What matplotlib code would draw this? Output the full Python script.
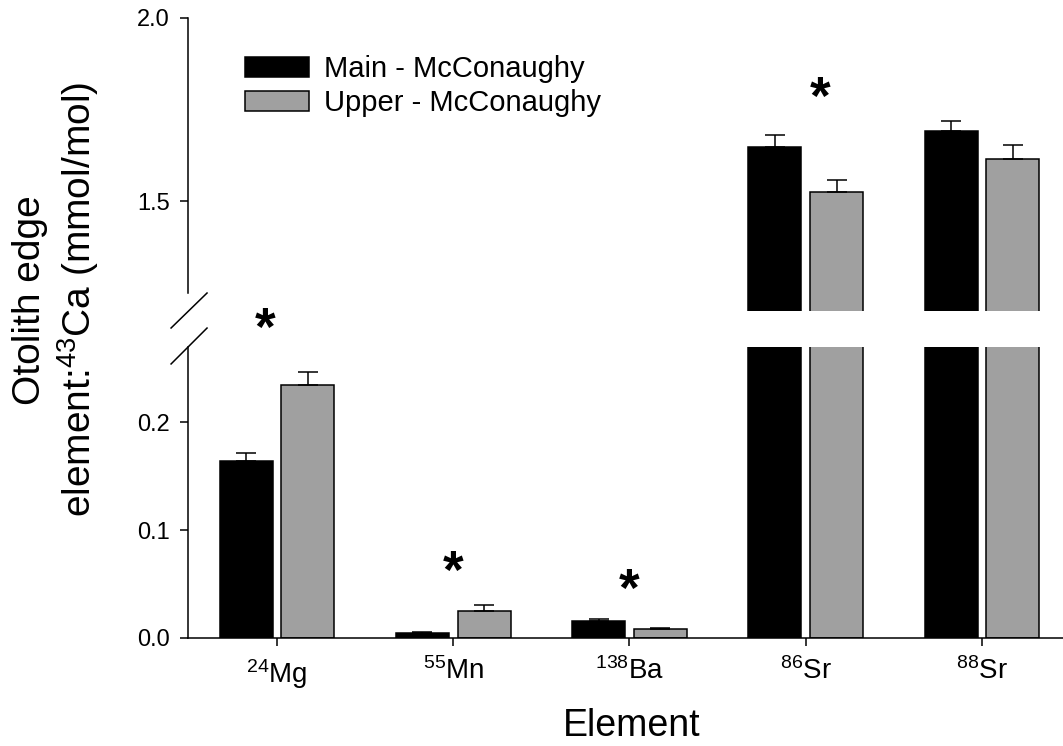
import numpy as np
import matplotlib
matplotlib.use('Agg')
import matplotlib.pyplot as plt
from matplotlib import transforms
from matplotlib.ticker import FormatStrFormatter

plt.rcParams['font.family'] = ['Liberation Sans', 'DejaVu Sans']
plt.rcParams['mathtext.fontset'] = 'custom'
plt.rcParams['mathtext.rm'] = 'Liberation Sans'
plt.rcParams['mathtext.it'] = 'Liberation Sans:italic'
plt.rcParams['mathtext.bf'] = 'Liberation Sans:bold'

# Data (mean and upper SE)
elements = [r'$^{24}$Mg', r'$^{55}$Mn', r'$^{138}$Ba', r'$^{86}$Sr', r'$^{88}$Sr']
main_mean = [0.164, 0.0046, 0.0157, 1.649, 1.692]
main_se = [0.008, 0.001, 0.0015, 0.032, 0.027]
upper_mean = [0.235, 0.025, 0.0083, 1.526, 1.616]
upper_se = [0.012, 0.006, 0.001, 0.033, 0.038]

# Significance stars (x in category units, y in data units, which panel)
star_x = [-0.07, 1.0, 2.0, 3.08]
star_y = [0.296, 0.070, 0.053, 1.809]
star_panel = ['low', 'low', 'low', 'high']

fig = plt.figure(figsize=(10.63, 7.46), dpi=100)
ax_hi = fig.add_axes([0.1769, 0.5831, 0.8231, 0.3928])
ax_lo = fig.add_axes([0.1769, 0.1448, 0.8231, 0.3901])

x = np.arange(len(elements))
w = 0.30
off = 0.175
zeros = np.zeros(len(elements))

for ax in (ax_hi, ax_lo):
    ax.bar(x - off, main_mean, w, color='black', edgecolor='black', linewidth=1.1,
           label='Main - McConaughy')
    ax.bar(x + off, upper_mean, w, color='#a0a0a0', edgecolor='black', linewidth=1.1,
           label='Upper - McConaughy')
    ax.errorbar(x - off, main_mean, yerr=[zeros, main_se], fmt='none', ecolor='black',
                elinewidth=1.1, capsize=7, capthick=1.1)
    ax.errorbar(x + off, upper_mean, yerr=[zeros, upper_se], fmt='none', ecolor='black',
                elinewidth=1.1, capsize=7, capthick=1.1)
    ax.set_xlim(-0.505, 4.46)
    ax.spines['top'].set_visible(False)
    ax.spines['right'].set_visible(False)
    ax.spines['left'].set_linewidth(1.1)
    ax.spines['bottom'].set_linewidth(1.1)
    ax.tick_params(axis='y', direction='out', length=6, width=1.1, labelsize=17, pad=7)

# upper panel
ax_hi.set_ylim(1.2, 2.0)
ax_hi.set_yticks([1.5, 2.0])
ax_hi.yaxis.set_major_formatter(FormatStrFormatter('%.1f'))
ax_hi.spines['bottom'].set_visible(False)
ax_hi.spines['left'].set_bounds(1.25, 2.0)
ax_hi.tick_params(axis='x', bottom=False, labelbottom=False)

# lower panel
ax_lo.set_ylim(0, 0.27)
ax_lo.set_yticks([0.0, 0.1, 0.2])
ax_lo.yaxis.set_major_formatter(FormatStrFormatter('%.1f'))
ax_lo.set_xticks(x)
ax_lo.set_xticklabels(elements)
ax_lo.tick_params(axis='x', direction='out', length=6, width=1.1, labelsize=20, pad=8)

# axis break marks
kw = dict(color='black', lw=1.1, clip_on=False)
ax_hi.plot([-0.0194, 0.0217], [-0.058, 0.0614], transform=ax_hi.transAxes, **kw)
ax_lo.plot([-0.0194, 0.0217], [0.9416, 1.065], transform=ax_lo.transAxes, **kw)

# stars
star_fs = 38
for sx, sy, p in zip(star_x, star_y, star_panel):
    ax = ax_hi if p == 'high' else ax_lo
    tr = transforms.offset_copy(ax.transData, fig=fig, y=-0.485 * star_fs, units='points')
    ax.text(sx, sy, '*', fontsize=star_fs, fontweight='bold', ha='center', va='baseline',
            transform=tr, clip_on=False)

ax_hi.legend(loc='upper left', bbox_to_anchor=(0.2305, 0.926), bbox_transform=fig.transFigure,
             frameon=False, fontsize=21, handlelength=2.2, handleheight=0.66,
             handletextpad=0.5, labelspacing=0.2, borderpad=0, borderaxespad=0)

fig.text(0.053, 0.598, 'Otolith edge\nelement:$^{43}$Ca (mmol/mol)', rotation=90,
         ha='center', va='center', fontsize=28, multialignment='center')
fig.text(0.594, 1 - 736 / 746, 'Element', ha='center', va='baseline', fontsize=27)

fig.savefig('out.png', dpi=100)
